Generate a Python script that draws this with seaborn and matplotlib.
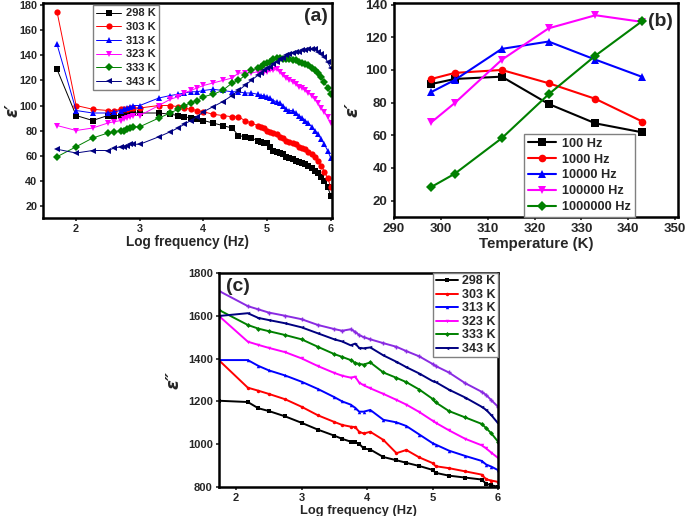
import numpy as np
import pandas as pd
import matplotlib
matplotlib.use('Agg')
import matplotlib.pyplot as plt
import seaborn as sns

# ---- dados painel (a): epsilon' x log f ----
x_a = [1.70, 2.00, 2.26, 2.50, 2.60, 2.70, 2.75, 2.80, 2.85, 2.90, 3.00, 3.30, 3.48, 3.60,
       3.70, 3.80, 3.90, 4.00, 4.15, 4.30, 4.45, 4.55, 4.65, 4.75, 4.85, 4.90, 4.95, 5.00,
       5.05, 5.10, 5.15, 5.20, 5.25, 5.30, 5.35, 5.40, 5.45, 5.50, 5.55, 5.60, 5.65, 5.70,
       5.75, 5.80, 5.85, 5.90, 5.95, 6.00]
eps1_298 = [129, 92, 88, 92, 92, 92, 93, 93, 93, 94, 94, 94, 93, 92, 91, 90, 89, 88, 86, 84,
            82, 76, 75, 74, 72, 71, 70, 70, 67, 64, 63, 62, 61, 59, 58, 57, 56, 55, 54, 53,
            52, 50, 48, 46, 43, 40, 35, 28]
eps1_303 = [175, 100, 97, 96, 96, 97, 97, 97, 98, 98, 98, 100, 100, 99, 98, 97, 96, 95, 93,
            92, 91, 91, 88, 86, 84, 83, 82, 80, 79, 78, 77, 75, 74, 72, 71, 70, 69, 67, 66,
            65, 63, 61, 59, 56, 52, 47, 42, 35]
eps1_313 = [149, 96, 94, 94, 95, 96, 97, 98, 99, 100, 100, 106, 108, 109, 110, 111, 111, 112,
            113, 112, 111, 111, 110, 110, 109, 108, 108, 107, 106, 104, 103, 102, 100, 97, 96,
            96, 94, 92, 90, 88, 86, 83, 80, 77, 73, 69, 64, 58]
eps1_323 = [84, 80, 82, 86, 87, 88, 89, 90, 91, 92, 92, 100, 105, 107, 110, 112, 114, 116, 118,
            120, 122, 126, 126, 126, 127, 127, 127, 127, 128, 128, 129, 127, 124, 122, 120, 119,
            117, 115, 114, 112, 110, 108, 105, 102, 98, 95, 91, 86]
eps1_333 = [59, 67, 74, 78, 79, 80, 80, 81, 82, 83, 83, 90, 94, 97, 100, 102, 104, 107, 109,
            112, 118, 120, 124, 128, 130, 131, 133, 134, 135, 137, 138, 138, 137, 137, 137, 136,
            136, 135, 134, 133, 132, 130, 128, 126, 123, 119, 114, 109]
eps1_343 = [65, 62, 64, 64, 66, 67, 67, 68, 69, 69, 69, 75, 79, 82, 85, 88, 91, 95, 99, 103,
            108, 112, 116, 120, 124, 126, 128, 130, 131, 133, 135, 137, 138, 140, 141, 142, 143,
            143, 144, 144, 145, 145, 145, 143, 141, 139, 135, 130]

# ---- dados painel (b): epsilon' x temperatura ----
temps = [298, 303, 313, 323, 333, 343]
eps_100hz = [91.4, 94.5, 95.9, 79.2, 67.3, 61.8]
eps_1khz = [94.5, 98.2, 100.0, 91.9, 82.3, 68.4]
eps_10khz = [86.5, 93.9, 112.9, 117.4, 106.3, 95.7]
eps_100khz = [68.0, 79.8, 106.2, 125.5, 133.5, 129.4]
eps_1mhz = [28.4, 36.5, 58.2, 85.1, 108.8, 130.0]

# ---- dados painel (c): epsilon'' x log f ----
x_c = [1.74, 2.18, 2.34, 2.50, 2.75, 3.00, 3.25, 3.50, 3.62, 3.75, 3.82, 3.88, 3.95, 4.05,
       4.25, 4.45, 4.60, 4.80, 5.00, 5.05, 5.25, 5.50, 5.75, 5.82, 5.90, 6.00]
eps2_298 = [1203, 1197, 1168, 1155, 1130, 1100, 1068, 1040, 1025, 1012, 1008, 1002, 980, 975,
            940, 925, 913, 898, 880, 866, 853, 844, 835, 815, 808, 801]
eps2_303 = [1392, 1264, 1250, 1235, 1210, 1175, 1135, 1104, 1090, 1082, 1080, 1058, 1050, 1058,
            1020, 958, 973, 938, 912, 897, 888, 873, 858, 836, 830, 824]
eps2_313 = [1393, 1393, 1366, 1345, 1321, 1292, 1258, 1220, 1200, 1185, 1170, 1152, 1152, 1160,
            1114, 1102, 1085, 1045, 1005, 998, 970, 945, 922, 905, 895, 879]
eps2_323 = [1599, 1479, 1464, 1450, 1430, 1401, 1365, 1333, 1320, 1311, 1315, 1288, 1275, 1261,
            1235, 1207, 1185, 1150, 1110, 1100, 1065, 1025, 995, 980, 960, 936]
eps2_333 = [1627, 1557, 1540, 1528, 1510, 1490, 1455, 1421, 1408, 1393, 1380, 1375, 1372, 1382,
            1335, 1310, 1290, 1255, 1212, 1195, 1155, 1125, 1095, 1075, 1050, 1012]
eps2_343 = [1599, 1612, 1590, 1580, 1565, 1546, 1518, 1490, 1480, 1462, 1470, 1450, 1448, 1452,
            1415, 1385, 1360, 1330, 1295, 1290, 1255, 1218, 1175, 1160, 1135, 1098]
eps2_extra = [1716, 1645, 1630, 1615, 1600, 1584, 1557, 1538, 1530, 1537, 1525, 1510, 1500, 1490,
              1472, 1455, 1435, 1410, 1375, 1365, 1335, 1285, 1245, 1230, 1205, 1175]

rotulos_T = ['298 K', '303 K', '313 K', '323 K', '333 K', '343 K']
rotulos_f = ['100 Hz', '1000 Hz', '10000 Hz', '100000 Hz', '1000000 Hz']

cores = ['black', 'red', 'blue', 'magenta', 'green', 'navy']
marcadores = ['s', 'o', '^', 'v', 'D', '<']

# Estilo
sns.set_style('ticks')
plt.rcParams['font.family'] = ['Liberation Sans', 'DejaVu Sans']
plt.rcParams['font.weight'] = 'bold'
plt.rcParams['axes.labelweight'] = 'bold'
plt.rcParams['axes.linewidth'] = 1.8
plt.rcParams['mathtext.fontset'] = 'dejavusans'

fig = plt.figure(figsize=(6.85, 5.16), dpi=100)
ax_a = fig.add_axes([0.0628, 0.5775, 0.4219, 0.4167])
ax_b = fig.add_axes([0.575, 0.5795, 0.4148, 0.4147])
ax_c = fig.add_axes([0.3197, 0.0562, 0.4073, 0.4148])


def ajusta_eixo(ax, tamanho=9, pad=2):
    ax.tick_params(direction='out', length=2.5, width=1.2, labelsize=tamanho, pad=pad)
    for lab in ax.get_xticklabels() + ax.get_yticklabels():
        lab.set_fontweight('bold')
    for sp in ax.spines.values():
        sp.set_visible(True)
        sp.set_color('black')


def ajusta_legenda(leg):
    leg.get_frame().set_linewidth(1.0)
    for t in leg.get_texts():
        t.set_fontweight('bold')


# Painel (a)
series_a = [eps1_298, eps1_303, eps1_313, eps1_323, eps1_333, eps1_343]
for y, cor, mk, lab in zip(series_a, cores, marcadores, rotulos_T):
    sns.lineplot(x=x_a, y=y, ax=ax_a, color=cor, marker=mk, markersize=4.5,
                 markeredgewidth=0, linewidth=0.7, label=lab)
ax_a.set_xlim(1.48, 6.02)
ax_a.set_ylim(10, 182)
ax_a.set_xticks([2, 3, 4, 5, 6])
ax_a.set_yticks(range(20, 181, 20))
ax_a.set_xlabel('Log frequency (Hz)', fontsize=9.8, labelpad=1)
ax_a.set_ylabel('ε′', fontsize=12, family='DejaVu Sans', style='italic')
ax_a.yaxis.set_label_coords(-0.074, 0.5)
ajusta_eixo(ax_a, 7.8, pad=1.5)
leg = ax_a.legend(loc='upper left', bbox_to_anchor=(0.173, 0.99), borderaxespad=0,
                  fancybox=False, edgecolor='grey', framealpha=1, fontsize=8,
                  handlelength=2.2, labelspacing=0.33, borderpad=0.3, handletextpad=0.5)
ajusta_legenda(leg)
ax_a.text(0.986, 0.975, '(a)', transform=ax_a.transAxes, ha='right', va='top',
          fontsize=14, fontweight='bold')

# Painel (b)
series_b = [eps_100hz, eps_1khz, eps_10khz, eps_100khz, eps_1mhz]
for y, cor, mk, lab in zip(series_b, cores, marcadores, rotulos_f):
    sns.lineplot(x=temps, y=y, ax=ax_b, color=cor, marker=mk, markersize=5.5,
                 markeredgewidth=0, linewidth=1.5, label=lab)
ax_b.set_xlim(290, 350.6)
ax_b.set_ylim(10, 141)
ax_b.set_xticks(range(290, 351, 10))
ax_b.set_yticks(range(20, 141, 20))
ax_b.set_xlabel('Temperature (K)', fontsize=10.8, labelpad=1)
ax_b.set_ylabel('ε′', fontsize=13, family='DejaVu Sans', style='italic')
ax_b.yaxis.set_label_coords(-0.115, 0.5)
ajusta_eixo(ax_b, 9.5)
leg = ax_b.legend(loc='lower right', bbox_to_anchor=(0.849, 0.0), borderaxespad=0,
                  fancybox=False, edgecolor='grey', framealpha=1, fontsize=9.2,
                  handlelength=2.2, labelspacing=0.3, borderpad=0.3, handletextpad=0.5)
ajusta_legenda(leg)
ax_b.text(0.982, 0.955, '(b)', transform=ax_b.transAxes, ha='right', va='top',
          fontsize=14, fontweight='bold')

# Painel (c)
series_c = [eps2_298, eps2_303, eps2_313, eps2_323, eps2_333, eps2_343]
for y, cor, mk, lab in zip(series_c, cores, marcadores, rotulos_T):
    sns.lineplot(x=x_c, y=y, ax=ax_c, color=cor, marker=mk, markersize=2.5,
                 markeredgewidth=0, linewidth=1.4, label=lab)
sns.lineplot(x=x_c, y=eps2_extra, ax=ax_c, color='#8a2be2', marker='+', markersize=3.5,
             markeredgecolor='#8a2be2', markeredgewidth=1.0, linewidth=1.4)
ax_c.set_xlim(1.74, 6.0)
ax_c.set_ylim(800, 1800)
ax_c.set_xticks([2, 3, 4, 5, 6])
ax_c.set_yticks(range(800, 1801, 200))
ax_c.set_xlabel('Log frequency (Hz)', fontsize=9.3, labelpad=1)
ax_c.set_ylabel('ε″', fontsize=13, family='DejaVu Sans', style='italic')
ax_c.yaxis.set_label_coords(-0.13, 0.5)
ajusta_eixo(ax_c, 8)
leg = ax_c.legend(loc='upper right', borderaxespad=0, fancybox=False, edgecolor='grey',
                  framealpha=1, fontsize=9, handlelength=1.8, labelspacing=0.12,
                  borderpad=0.2, handletextpad=0.3)
ajusta_legenda(leg)
ax_c.text(0.025, 0.977, '(c)', transform=ax_c.transAxes, ha='left', va='top',
          fontsize=14, fontweight='bold')

fig.savefig('out.png', dpi=100)
